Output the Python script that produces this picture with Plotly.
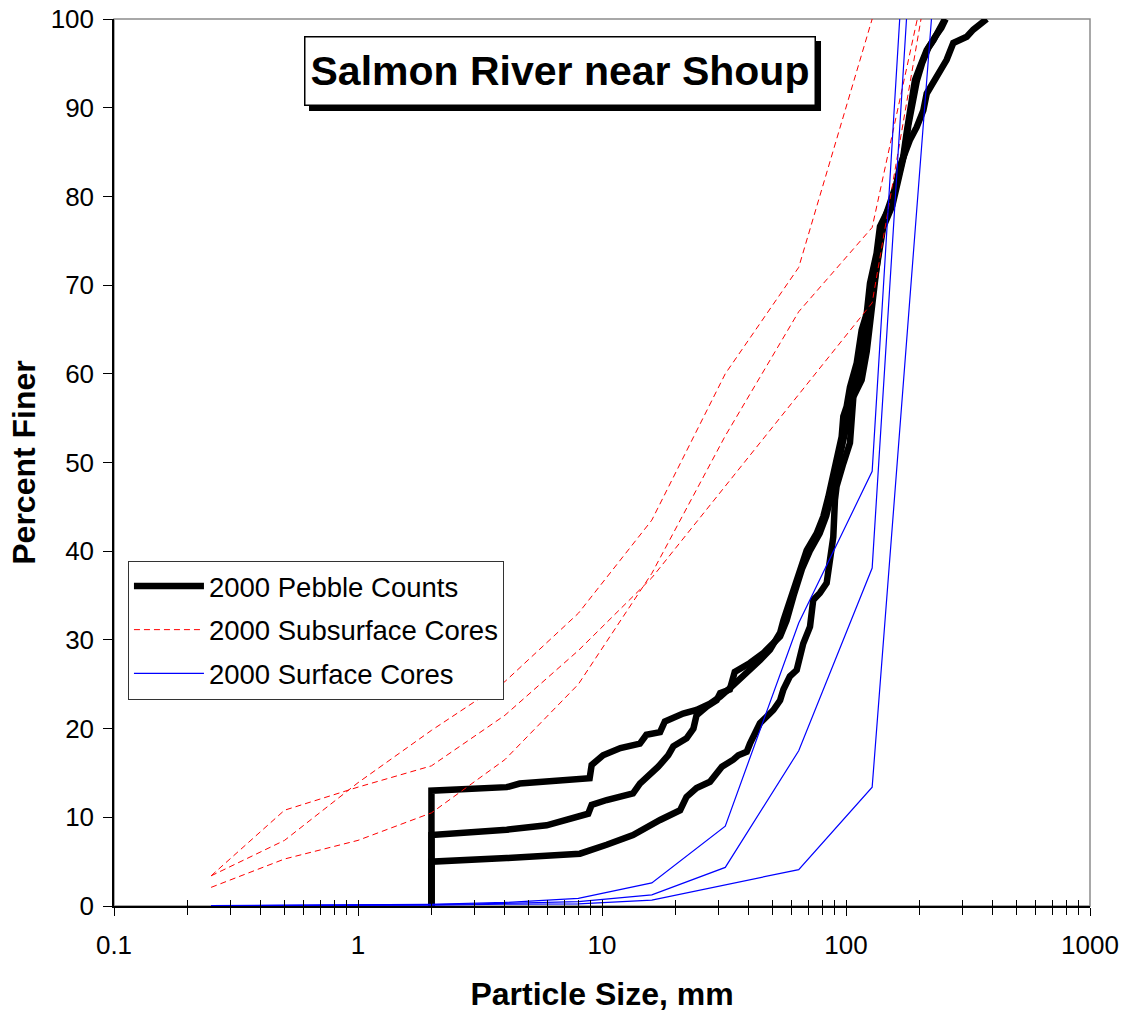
import plotly.graph_objects as go

# ---------------- data ----------------
# 2000 Subsurface Cores (percent finer vs. sieve size, mm)
sub_a_size = [0.25, 0.5, 1, 2, 4, 8, 16, 32, 64, 128, 203]
sub_a_pct = [3.4, 10.8, 13.4, 15.8, 21.5, 28.8, 37.0, 47.3, 57.6, 68.0, 100]
sub_b_size = [0.25, 0.5, 1, 2, 4, 8, 16, 32, 64, 128]
sub_b_pct = [3.4, 7.4, 13.9, 19.8, 25.3, 33.0, 43.5, 60.0, 72.0, 100]
sub_c_size = [0.25, 0.5, 1, 2, 4, 8, 16, 32, 64, 128, 196]
sub_c_pct = [2.1, 5.3, 7.4, 10.5, 16.5, 25.0, 37.5, 53.0, 67.0, 76.5, 100]

# 2000 Surface Cores
surf_a_size = [0.25, 0.5, 1, 2, 4, 8, 16, 32, 64, 128, 166]
surf_a_pct = [0.05, 0.08, 0.1, 0.2, 0.4, 0.85, 2.6, 9.0, 31.9, 49.0, 100]
surf_b_size = [0.25, 0.5, 1, 2, 4, 8, 16, 32, 64, 128, 177]
surf_b_pct = [0.03, 0.05, 0.08, 0.15, 0.3, 0.5, 1.25, 4.35, 17.5, 38.1, 100]
surf_c_size = [0.25, 0.5, 1, 2, 4, 8, 16, 32, 64, 128, 224]
surf_c_pct = [0.02, 0.04, 0.06, 0.1, 0.2, 0.25, 0.67, 2.4, 4.1, 13.4, 100]

# 2000 Pebble Counts
peb_a_size = [2, 2, 4.07, 4.6, 8.9, 9.07, 10.1, 11.9, 14.3, 15.2, 17.3, 18.1, 21.5, 24.4,
              27.7, 30.5, 34.5, 40.4, 44.4, 48.8, 53.7, 55.4, 58.9, 64.8, 69.0, 75.8, 80.7,
              84.6, 88.7, 91.5, 96.0, 97.5, 100.6, 103.8, 110.6, 115.9, 121.6, 125.4, 133.5,
              137.8, 151.5, 161.4, 171.7, 177.3, 183.0, 191.7, 201.0, 214.2, 228.2, 242.9, 254.5]
peb_a_pct = [0, 13.0, 13.4, 13.8, 14.4, 15.9, 17.0, 17.8, 18.3, 19.3, 19.6, 20.8, 21.7, 22.1,
             22.8, 23.6, 24.9, 26.6, 27.7, 28.9, 30.8, 32.2, 34.3, 37.9, 40.1, 42.0, 43.9,
             46.1, 48.4, 50.6, 52.9, 55.2, 56.3, 58.5, 61.2, 64.9, 66.8, 70.2, 73.6,
             76.6, 78.9, 81.5, 84.5, 87.2, 90.1, 93.1, 94.6, 96.5, 97.6, 98.8, 100]
peb_b_size = [2, 2, 4.07, 5.93, 8.78, 9.07, 10.45, 13.4, 14.3, 15.7, 17.0, 18.7, 19.6, 22.2,
              23.7, 24.4, 26.9, 29.5, 30.5, 33.4, 35.0, 40.4, 45.8, 53.7, 57.1, 61.0, 66.0,
              71.0, 78.0, 83.0, 87.0, 90.0, 93.0, 98.0, 101.0, 106.0, 113.0, 120.0, 125.0,
              130.0, 136.0, 142.0, 155.0, 165.0, 174.0, 180.0, 187.0, 195.0, 205.0, 218.0,
              232.0, 246.0, 256.0]
peb_b_pct = [0, 8.0, 8.6, 9.1, 10.4, 11.4, 11.95, 12.7, 13.8, 14.8, 15.7, 17.0, 18.0, 18.9,
             20.0, 21.5, 22.5, 23.2, 24.0, 24.4, 26.4, 27.4, 28.5, 30.4, 32.2, 35.0, 38.0,
             40.0, 42.0, 44.0, 46.0, 48.0, 50.0, 53.0, 55.0, 57.0, 60.0, 63.5, 66.5,
             70.0, 73.5, 76.5, 79.0, 82.0, 85.0, 88.0, 90.5, 93.0, 95.0, 96.8,
             98.0, 99.0, 100]
peb_c_size = [2, 2, 4.07, 8.12, 10.45, 13.4, 17.3, 20.9, 22.2, 24.4, 27.7, 31.0, 34.5, 36.2,
              39.2, 40.4, 44.4, 50.4, 53.7, 55.4, 58.9, 62.8, 66.8, 69.0, 71.2, 73.4, 78.2,
              83.3, 86.0, 88.7, 90.1, 91.5, 97.5, 103.8, 107.2, 115.9, 121.6, 128.0, 133.5,
              140.0, 151.5, 161.4, 166.4, 183.0, 194.8, 207.5, 214.2, 228.2, 242.9, 258.5,
              275.2, 312.4, 332.4, 377.5]
peb_c_pct = [0, 5.0, 5.4, 5.9, 6.9, 8.0, 9.7, 10.8, 12.3, 13.3, 14.0, 15.7, 16.5, 17.0,
             17.4, 18.3, 20.6, 22.1, 23.2, 24.4, 25.9, 26.6, 29.6, 30.7, 31.5, 34.5, 35.3,
             36.4, 38.6, 41.6, 45.8, 47.3, 49.9, 52.2, 57.4, 59.3, 62.5, 67.0, 72.0,
             76.5, 79.0, 81.5, 83.4, 86.4, 87.8, 89.7, 91.6, 92.8, 94.3, 95.4,
             97.3, 98.0, 98.8, 100]

major_ticks = [0.1, 1, 10, 100, 1000]
major_labels = ["0.1", "1", "10", "100", "1000"]
minor_ticks = [m * d for d in (0.1, 1, 10, 100) for m in range(2, 10)]

FONT = "Liberation Sans, Arial, sans-serif"

fig = go.Figure()

pebbles = [(peb_a_size, peb_a_pct), (peb_b_size, peb_b_pct), (peb_c_size, peb_c_pct)]
subs = [(sub_a_size, sub_a_pct), (sub_b_size, sub_b_pct), (sub_c_size, sub_c_pct)]
surfs = [(surf_a_size, surf_a_pct), (surf_b_size, surf_b_pct), (surf_c_size, surf_c_pct)]

for i, (xs, ys) in enumerate(pebbles):
    fig.add_trace(go.Scatter(x=xs, y=ys, mode="lines", name="2000 Pebble Counts",
                             legendgroup="peb", showlegend=(i == 0),
                             line=dict(color="black", width=6.5)))
for i, (xs, ys) in enumerate(subs):
    fig.add_trace(go.Scatter(x=xs, y=ys, mode="lines", name="2000 Subsurface Cores",
                             legendgroup="sub", showlegend=(i == 0),
                             line=dict(color="#FF0000", width=1, dash="6px,4px")))
for i, (xs, ys) in enumerate(surfs):
    fig.add_trace(go.Scatter(x=xs, y=ys, mode="lines", name="2000 Surface Cores",
                             legendgroup="surf", showlegend=(i == 0),
                             line=dict(color="#0000FF", width=1.2)))

# empty trace to carry the overlay axis used for the inner half of the crossing ticks
fig.add_trace(go.Scatter(x=[], y=[], xaxis="x2", showlegend=False, hoverinfo="skip"))

fig.update_layout(
    width=1128, height=1012,
    margin=dict(l=114, r=38, t=19, b=106, pad=0, autoexpand=False),
    paper_bgcolor="white", plot_bgcolor="white",
    font=dict(family=FONT, size=26, color="black"),
    showlegend=True,
    legend=dict(x=0.0143, y=0.3895, xanchor="left", yanchor="top",
                bgcolor="white", bordercolor="#333333", borderwidth=1,
                font=dict(family=FONT, size=27.5, color="black"),
                itemwidth=70, tracegroupgap=5, traceorder="grouped"),
    xaxis=dict(type="log", range=[-1, 3], autorange=False, automargin=False,
               tickmode="array", tickvals=major_ticks, ticktext=major_labels,
               ticks="outside", ticklen=8, tickwidth=1, tickcolor="black",
               minor=dict(tickmode="array", tickvals=minor_ticks, ticks="outside",
                          ticklen=7, tickwidth=1, tickcolor="black", showgrid=False),
               showline=True, linecolor="black", linewidth=1.5,
               showgrid=False, zeroline=False, layer="below traces",
               tickfont=dict(family=FONT, size=26),
               ticklabelstandoff=7, ticklabeloverflow="allow",
               title=dict(text="<b>Particle Size, mm</b>",
                          font=dict(family=FONT, size=32), standoff=24)),
    xaxis2=dict(type="log", range=[-1, 3], autorange=False, overlaying="x", anchor="y",
                automargin=False,
                side="bottom", tickmode="array", tickvals=major_ticks + minor_ticks,
                ticks="inside", ticklen=6, tickwidth=1, tickcolor="black",
                showticklabels=False, showline=False, showgrid=False, zeroline=False),
    yaxis=dict(range=[0, 100], autorange=False, automargin=False, tick0=0, dtick=10,
               ticks="outside", ticklen=9, tickwidth=1, tickcolor="black",
               showline=True, linecolor="black", linewidth=1.5,
               showgrid=False, zeroline=False, layer="below traces",
               tickfont=dict(family=FONT, size=26),
               ticklabelstandoff=4, ticklabeloverflow="allow",
               title=dict(text="<b>Percent Finer</b>",
                          font=dict(family=FONT, size=32), standoff=5)),
)

# grey frame on the top/right of the plot area
fig.add_shape(type="rect", xref="paper", yref="paper", x0=0, x1=1, y0=0, y1=1,
              line=dict(color="#8c8c8c", width=1.5), fillcolor="rgba(0,0,0,0)", layer="below")

# title box with drop shadow
fig.add_shape(type="rect", xref="paper", yref="paper",
              x0=0.1998, x1=0.7244, y0=0.8963, y1=0.9752,
              line=dict(width=0), fillcolor="black", layer="above")
fig.add_annotation(text="<b>Salmon River near Shoup</b>", xref="paper", yref="paper",
                   x=0.457, y=0.9414, xanchor="center", yanchor="middle",
                   showarrow=False, font=dict(family=FONT, size=41, color="black"),
                   bgcolor="white", bordercolor="black", borderwidth=1.5, borderpad=0,
                   width=509, height=67)

# remove the default 8 px page margin so the figure fills the window exactly
fig.write_html("out.html", config={"displayModeBar": False},
               post_script="document.body.style.margin='0px';")
